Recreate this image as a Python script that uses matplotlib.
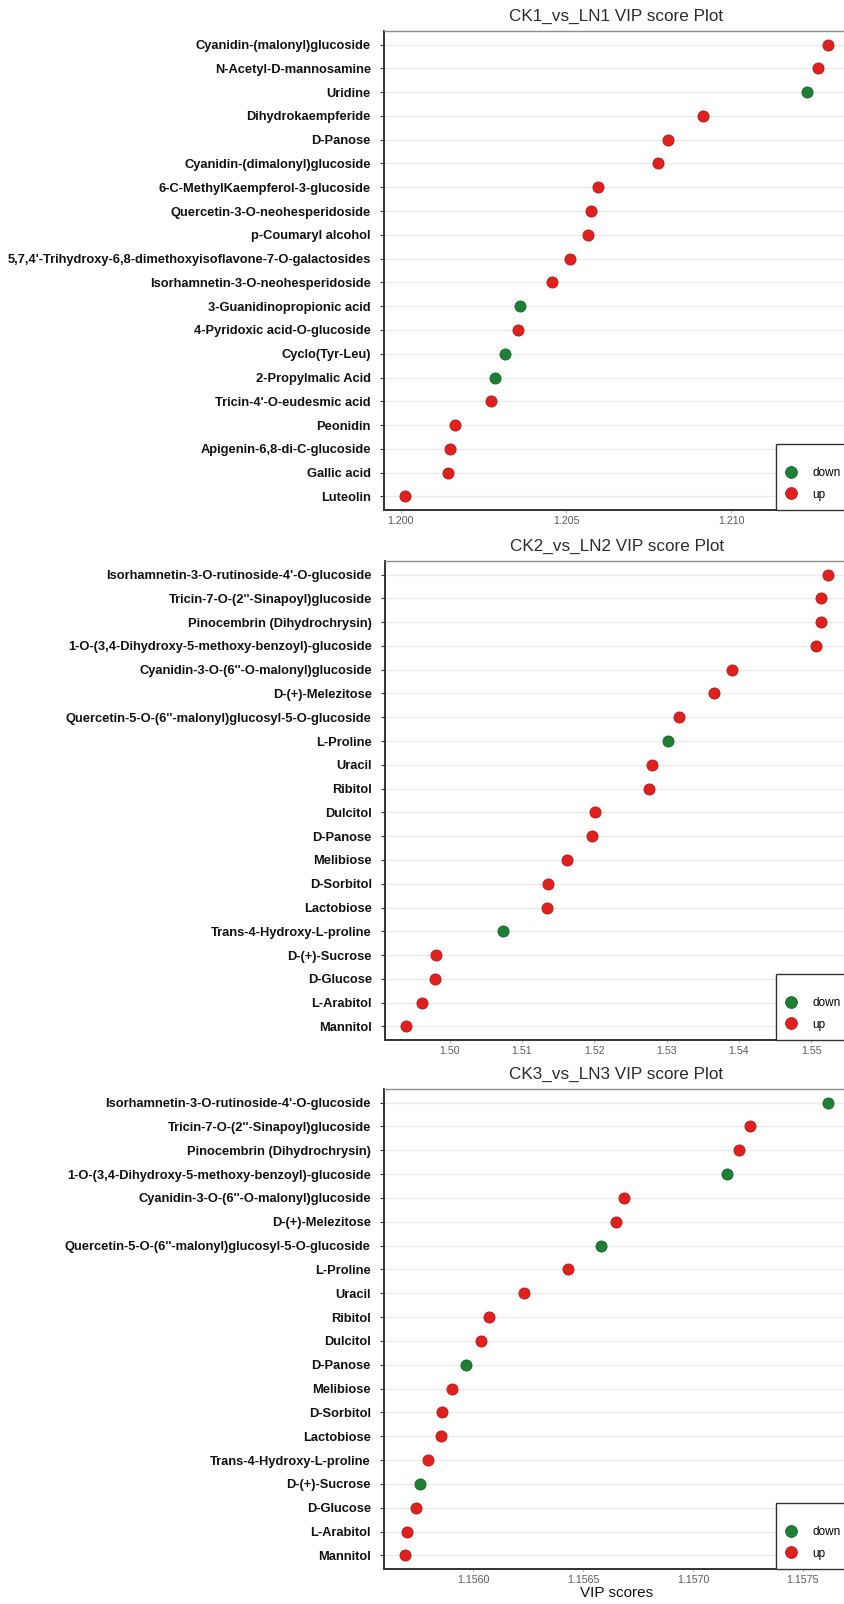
import matplotlib
matplotlib.use("Agg")
import matplotlib.pyplot as plt
from matplotlib.lines import Line2D

# ---- data -------------------------------------------------------------
names_1 = ["Cyanidin-(malonyl)glucoside", "N-Acetyl-D-mannosamine", "Uridine",
           "Dihydrokaempferide", "D-Panose", "Cyanidin-(dimalonyl)glucoside",
           "6-C-MethylKaempferol-3-glucoside", "Quercetin-3-O-neohesperidoside",
           "p-Coumaryl alcohol",
           "5,7,4'-Trihydroxy-6,8-dimethoxyisoflavone-7-O-galactosides",
           "Isorhamnetin-3-O-neohesperidoside", "3-Guanidinopropionic acid",
           "4-Pyridoxic acid-O-glucoside", "Cyclo(Tyr-Leu)", "2-Propylmalic Acid",
           "Tricin-4'-O-eudesmic acid", "Peonidin", "Apigenin-6,8-di-C-glucoside",
           "Gallic acid", "Luteolin"]
vip_1 = [1.21293, 1.21262, 1.21231, 1.20914, 1.20809, 1.20778, 1.20596,
         1.20577, 1.20568, 1.20512, 1.20457, 1.20361, 1.20355, 1.20315,
         1.20284, 1.20272, 1.20164, 1.20148, 1.20142, 1.20013]
reg_1 = ["up", "up", "down", "up", "up", "up", "up", "up", "up", "up", "up",
         "down", "up", "down", "down", "up", "up", "up", "up", "up"]

names_23 = ["Isorhamnetin-3-O-rutinoside-4'-O-glucoside",
            "Tricin-7-O-(2''-Sinapoyl)glucoside", "Pinocembrin (Dihydrochrysin)",
            "1-O-(3,4-Dihydroxy-5-methoxy-benzoyl)-glucoside",
            "Cyanidin-3-O-(6''-O-malonyl)glucoside", "D-(+)-Melezitose",
            "Quercetin-5-O-(6''-malonyl)glucosyl-5-O-glucoside", "L-Proline",
            "Uracil", "Ribitol", "Dulcitol", "D-Panose", "Melibiose", "D-Sorbitol",
            "Lactobiose", "Trans-4-Hydroxy-L-proline", "D-(+)-Sucrose",
            "D-Glucose", "L-Arabitol", "Mannitol"]
vip_2 = [1.5523, 1.5513, 1.5513, 1.5507, 1.5390, 1.5365, 1.5317, 1.5302,
         1.5280, 1.5276, 1.5201, 1.5197, 1.5163, 1.5136, 1.5135, 1.5074,
         1.4982, 1.4980, 1.4962, 1.4940]
reg_2 = ["up", "up", "up", "up", "up", "up", "up", "down", "up", "up", "up",
         "up", "up", "up", "up", "down", "up", "up", "up", "up"]

vip_3 = [1.157614, 1.157260, 1.157209, 1.157153, 1.156684, 1.156651,
         1.156581, 1.156433, 1.156233, 1.156070, 1.156037, 1.155967,
         1.155902, 1.155856, 1.155851, 1.155795, 1.155758, 1.155740,
         1.155699, 1.155690]
reg_3 = ["down", "up", "up", "down", "up", "up", "down", "up", "up", "up",
         "up", "down", "up", "up", "up", "up", "down", "up", "up", "up"]

titles = ["CK1_vs_LN1 VIP score Plot", "CK2_vs_LN2 VIP score Plot",
          "CK3_vs_LN3 VIP score Plot"]
ticks_1 = [1.200, 1.205, 1.210]
ticks_2 = [1.50, 1.51, 1.52, 1.53, 1.54, 1.55]
ticks_3 = [1.1560, 1.1565, 1.1570, 1.1575]
tick_fmt = ["{:.3f}", "{:.2f}", "{:.4f}"]

colors = {"down": "#1E8035", "up": "#E0201C"}
edges = {"down": "#16652A", "up": "#B8171A"}

# ---- figure -----------------------------------------------------------
W, H = 844, 1604
fig = plt.figure(figsize=(W / 100, H / 100), dpi=100)
fig.patch.set_facecolor("white")

label_font = ["Liberation Sans Narrow", "Liberation Sans", "DejaVu Sans"]
plain_font = ["Liberation Sans", "DejaVu Sans"]

# panel boxes in pixels: (left, right, top, bottom)
boxes = [(384, 849, 31, 510), (385, 849, 561, 1040), (384, 849, 1089, 1569)]

panels = [(names_1, vip_1, reg_1, ticks_1),
          (names_23, vip_2, reg_2, ticks_2),
          (names_23, vip_3, reg_3, ticks_3)]

for i, ((names, vals, regs, ticks), (l, r, t, b)) in enumerate(zip(panels, boxes)):
    ax = fig.add_axes([l / W, 1 - b / H, (r - l) / W, (b - t) / H])
    n = len(names)
    ypos = list(range(n - 1, -1, -1))
    for key in ("down", "up"):
        xs = [v for v, g in zip(vals, regs) if g == key]
        ys = [y for y, g in zip(ypos, regs) if g == key]
        ax.scatter(xs, ys, s=64, c=colors[key], edgecolors=edges[key],
                   linewidths=0.6, zorder=3)

    lo, hi = min(vals), max(vals)
    pad = (hi - lo) * 0.05
    ax.set_xlim(lo - pad, hi + pad)
    ax.set_ylim(-0.57, n - 1 + 0.57)

    ax.set_yticks(ypos)
    ax.set_yticklabels(names, fontfamily=label_font, fontweight="bold",
                       fontsize=9.3, color="#111111")
    ax.set_xticks(ticks)
    ax.set_xticklabels([tick_fmt[i].format(v) for v in ticks],
                       fontfamily=plain_font, fontsize=7.7, color="#5A5A5A")
    ax.tick_params(axis="y", length=3, width=0.8, color="#333333", pad=6.5)
    ax.tick_params(axis="x", length=2, width=0.6, color="#AAAAAA", pad=2)

    ax.grid(axis="y", color="#EBEBEB", linewidth=1.0, zorder=0)
    ax.grid(axis="x", visible=False)
    ax.set_axisbelow(True)

    for side in ("top", "right"):
        ax.spines[side].set_color("#8C8C8C")
        ax.spines[side].set_linewidth(1.0)
    for side in ("left", "bottom"):
        ax.spines[side].set_color("#333333")
        ax.spines[side].set_linewidth(1.4)

    ax.set_title(titles[i], fontfamily=plain_font, fontsize=12.3,
                 color="#2B2B2B", pad=7.5)

    handles = [Line2D([], [], marker="o", linestyle="none", markersize=8.5,
                      markerfacecolor=colors[k], markeredgecolor=edges[k],
                      markeredgewidth=0.6, label=k) for k in ("down", "up")]
    leg = ax.legend(handles=handles, title=" ", loc="lower left",
                    bbox_to_anchor=((776 - l) / (r - l), 0.0),
                    borderaxespad=0, frameon=True, fancybox=False,
                    handletextpad=1.3, handlelength=1.0, labelspacing=0.8,
                    borderpad=0.8,
                    prop={"family": plain_font, "size": 8.5})
    leg.get_title().set_fontsize(3)
    frame = leg.get_frame()
    frame.set_edgecolor("#333333")
    frame.set_linewidth(1.0)
    frame.set_facecolor("white")
    frame.set_alpha(1.0)

    if i == 2:
        ax.set_xlabel("VIP scores", fontfamily=plain_font, fontsize=11,
                      color="#111111", labelpad=1)

fig.savefig("out.png", dpi=100, facecolor="white")
